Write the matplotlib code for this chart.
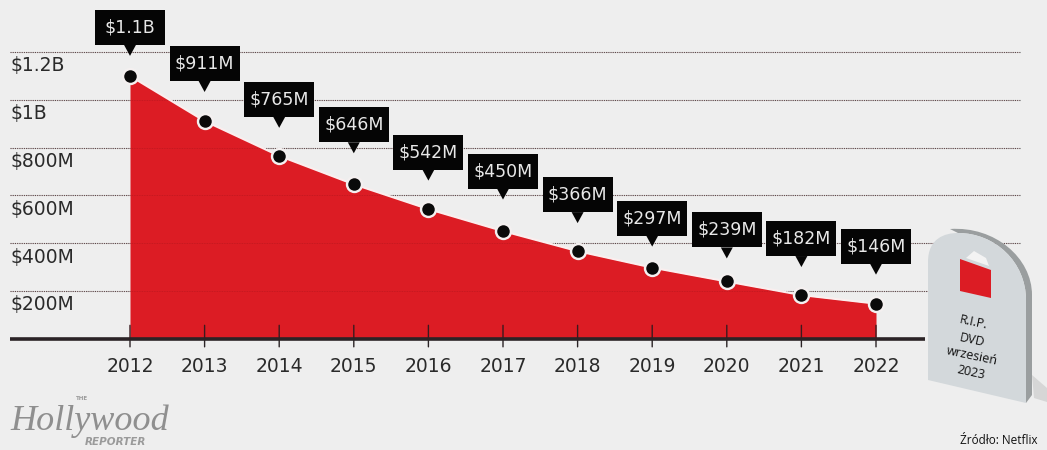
import matplotlib
matplotlib.use("Agg")
import matplotlib.pyplot as plt
from matplotlib.patches import PathPatch, Polygon, Rectangle
from matplotlib.path import Path

# revenue per year, in millions of dollars
years = [2012, 2013, 2014, 2015, 2016, 2017, 2018, 2019, 2020, 2021, 2022]
revenue = [1100, 911, 765, 646, 542, 450, 366, 297, 239, 182, 146]
labels = ["$1.1B", "$911M", "$765M", "$646M", "$542M", "$450M",
          "$366M", "$297M", "$239M", "$182M", "$146M"]
# distance from each dot up to the tip of its callout, in pixels
tip_gaps = [20, 29, 28, 31, 28.5, 31.5, 28, 21, 23, 28, 29]

y_ticks = [200, 400, 600, 800, 1000, 1200]
y_labels = ["$200M", "$400M", "$600M", "$800M", "$1B", "$1.2B"]

bg = "#eeeeee"
red = "#dc1c24"
W, H = 1047, 450

fig = plt.figure(figsize=(W / 100, H / 100), dpi=100, facecolor=bg)

# the chart axes fill the figure, limits chosen so 2012..2022 span x=130..876 px
x_per_px = 10 / (876 - 130)
y_per_px = 1200 / (338.5 - 52)
ax = fig.add_axes([0, 0, 1, 1])
ax.set_xlim(2012 - 130 * x_per_px, 2012 + (W - 130) * x_per_px)
ax.set_ylim(-(H - 338.5) * y_per_px, 338.5 * y_per_px)
ax.axis("off")

# pixel overlay for the logo and the gravestone
px = fig.add_axes([0, 0, 1, 1], zorder=5)
px.set_xlim(0, W)
px.set_ylim(H, 0)
px.axis("off")
px.patch.set_alpha(0)

x_left = 2012 - 120 * x_per_px
x_right = 2012 + 890 * x_per_px

for t, lab in zip(y_ticks, y_labels):
    ax.plot([x_left, x_right], [t, t], color="#555555", lw=0.8, ls=(0, (1, 1)), zorder=1)
    # same line again, faint, on top of the red area
    ax.plot([x_left, x_right], [t, t], color="#7a1015", lw=0.6, ls=(0, (1, 1)), alpha=0.3, zorder=3.2)
    ax.text(x_left, t - 14 * y_per_px, lab, ha="left", va="center", fontsize=13.5,
            color="#2a2a2a", zorder=2)

ax.fill_between(years, revenue, 0, color=red, lw=0, zorder=3)
ax.plot(years, revenue, color="#fbeeee", lw=1.5, zorder=3.5)
ax.plot([x_left, 2012 + 795 * x_per_px], [0, 0], color="#2b2326", lw=2.6, zorder=4,
        solid_capstyle="butt")

for y, r, lab, gap in zip(years, revenue, labels, tip_gaps):
    # tick and year label
    ax.annotate("", xy=(y, 0), xytext=(0, 9.5), textcoords="offset points",
                arrowprops=dict(arrowstyle="-", color="#3a1a1e", lw=1, shrinkA=0, shrinkB=0), zorder=4)
    ax.annotate("", xy=(y, 0), xytext=(0, -6), textcoords="offset points",
                arrowprops=dict(arrowstyle="-", color="#2b2326", lw=1, shrinkA=0, shrinkB=0), zorder=4)
    ax.annotate(str(y), xy=(y, 0), xytext=(0, -20), textcoords="offset points", ha="center",
                va="center", fontsize=13.5, color="#2a2a2a", zorder=6)

    # dot with pale ring
    ax.plot(y, r, "o", ms=12.5, color="#f4f0f0", mew=0, zorder=6, clip_on=False)
    ax.plot(y, r, "o", ms=9, color="#0a0a0a", mew=0, zorder=7, clip_on=False)

    # callout: box and pointer, anchored on the dot
    tip_y = r + gap * y_per_px
    hw = 35 * x_per_px
    ax.add_patch(Rectangle((y - hw, tip_y + 11 * y_per_px), 2 * hw, 35 * y_per_px,
                           color="#050505", lw=0, zorder=8))
    ax.add_patch(Polygon([[y - 6 * x_per_px, tip_y + 11 * y_per_px],
                          [y + 6 * x_per_px, tip_y + 11 * y_per_px], [y, tip_y]],
                         closed=True, color="#050505", lw=0, zorder=8))
    ax.text(y, tip_y + 28.5 * y_per_px, lab, color="#e8e8e8", ha="center", va="center",
            fontsize=12.5, zorder=9)

# logo
px.text(76, 399, "THE", family="DejaVu Sans", weight="bold", fontsize=4,
        color="#9a9a9a", ha="left", va="center")
px.text(10, 421, "Hollywood", family="Liberation Serif", style="italic", fontsize=26,
        color="#8f8f8f", ha="left", va="center")
px.text(85, 442, "REPORTER", family="DejaVu Sans", style="italic", weight="bold", fontsize=7.5,
        color="#9a9a9a", ha="left", va="center")

# gravestone: shadow, side, front, red emblem
C4 = Path.CURVE4
px.add_patch(Polygon([(1032, 375), (1047, 388), (1047, 402), (1034, 398)], closed=True,
                     fc="#d6d6d6", ec="none", zorder=0))
side = Path([(950, 229), (995, 226), (1032, 258), (1032, 295), (1032, 395), (1026, 403),
             (1026, 300), (1026, 262), (995, 233), (958, 233), (950, 229)],
            [Path.MOVETO, C4, C4, C4, Path.LINETO, Path.LINETO, Path.LINETO, C4, C4, C4, Path.CLOSEPOLY])
px.add_patch(PathPatch(side, fc="#9a9e9f", ec="none", zorder=1))
front = Path([(928, 380), (928, 262), (928, 238), (945, 233), (958, 233), (995, 233), (1026, 262),
              (1026, 300), (1026, 403), (928, 380)],
             [Path.MOVETO, Path.LINETO, C4, C4, C4, C4, C4, C4, Path.LINETO, Path.CLOSEPOLY])
px.add_patch(PathPatch(front, fc="#d3d8db", ec="none", zorder=2))
px.add_patch(Polygon([(960, 259), (991, 270), (991, 298), (960, 291)], closed=True, fc=red, ec="none", zorder=3))
px.add_patch(Polygon([(966, 258), (974, 251), (986, 258), (989, 266)], closed=True, fc="#f3f3f3", ec="none", zorder=3))
for txt, yy, xx in zip(["R.I.P.", "DVD", "wrzesień", "2023"], [323, 340, 356, 373], [973, 972, 972, 971]):
    px.text(xx, yy, txt, rotation=-12, ha="center", va="center", fontsize=9, color="#111111",
            family="Open Sans", zorder=4, rotation_mode="anchor")

px.text(1037, 441, "Źródło: Netflix", ha="right", va="center", fontsize=8.5, color="#111111", family="Open Sans")

fig.savefig("out.png", dpi=100, facecolor=bg)
